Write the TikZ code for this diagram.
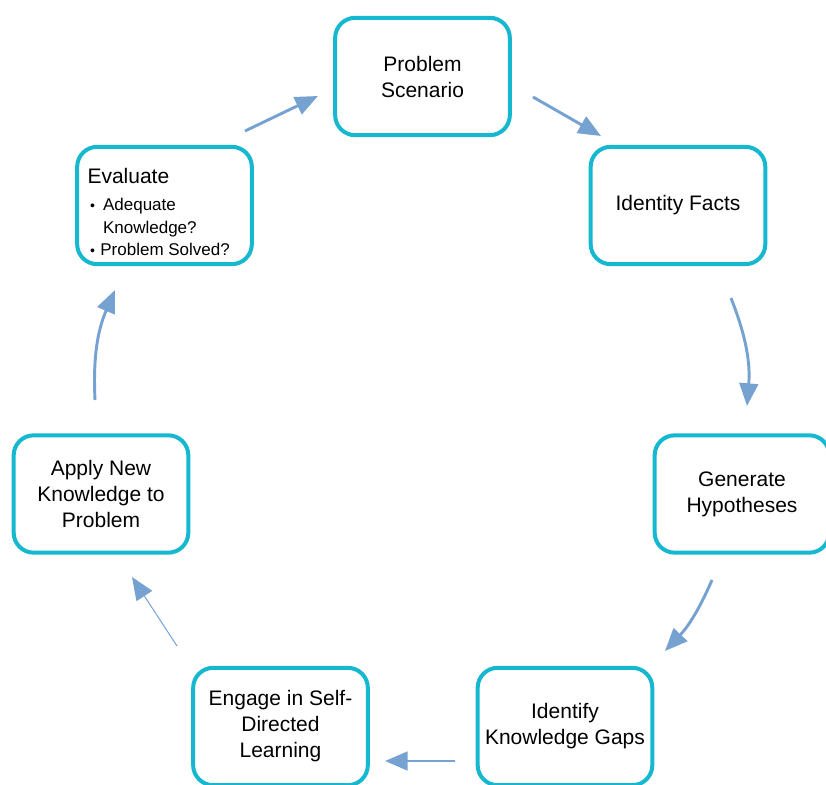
\documentclass[tikz,border=0pt]{standalone}
\usepackage{fontspec}
\setmainfont{Liberation Sans}
\usetikzlibrary{arrows.meta}
\definecolor{stagecyan}{RGB}{22,184,208}
\definecolor{flowblue}{RGB}{118,162,210}
\tikzset{every picture/.style={line width=0.75pt}}
\tikzset{
  stage/.style={draw=stagecyan, line width=3pt, rounded corners=15pt,
    minimum width=131pt, minimum height=88pt, inner sep=0pt, align=center,
    font=\fontsize{15.75}{19.5}\selectfont},
  flow/.style={draw=flowblue, line width=2.2pt,
    -{Triangle[length=17pt,width=14pt,fill=flowblue]}},
  thinflow/.style={flow, line width=0.75pt},
}

\begin{document}
\begin{tikzpicture}[x=0.75pt,y=-0.75pt]
%set diagram left start at 0, and has height of 785
\path[use as bounding box, clip] (0,0) rectangle (826,785);

% Text Node
\node[stage] (scenario) at (422.5,76.5) {Problem\\Scenario};
% Text Node
\node[stage] (facts) at (678,205.5) {Identity Facts};
% Text Node
\node[stage] (hypo) at (742,494) {Generate\\Hypotheses};
% Text Node
\node[stage] (gaps) at (565,726.5) {Identify\\Knowledge Gaps};
% Text Node
\node[stage] (engage) at (280.5,726.5) {Engage in Self-\\Directed\\Learning};
% Text Node
\node[stage] (apply) at (101,494) {Apply New\\Knowledge to\\Problem};
% Text Node
\node[stage] (evaluate) at (164.5,205.5) {};
\node[anchor=north west, inner sep=0pt] (evaltext) at ([shift={(-77.5,-38)}]evaluate.center)
  {\fontsize{12.75}{17}\selectfont
   \begin{tabular}{@{}l@{\hspace{6pt}}l@{}}
   \multicolumn{2}{@{}l@{}}{\fontsize{15.75}{19.5}\selectfont Evaluate}\\[3pt]
   \hspace{2pt}{\fontsize{10.5}{12}\selectfont\textbullet} & Adequate\\
               & Knowledge?\\
   \hspace{2pt}{\fontsize{10.5}{12}\selectfont\textbullet} & \hspace{-2pt}Problem Solved?
   \end{tabular}};

%Straight Lines
\draw[flow] ([shift={(80.5,-74.5)}]evaluate.center) -- ([shift={(-104.5,19.5)}]scenario.center);
%Straight Lines
\draw[flow] ([shift={(110.5,20.5)}]scenario.center) -- ([shift={(-77,-69.5)}]facts.center);
%Curve Lines
\draw[flow] ([shift={(53,92.5)}]facts.center) to[bend left=13] ([shift={(5,-88)}]hypo.center);
%Curve Lines
\draw[flow] ([shift={(-30,86)}]hypo.center) to[bend left=10] ([shift={(100,-75.5)}]gaps.center);
%Straight Lines
\draw[flow] ([shift={(-110,34.5)}]gaps.center) -- ([shift={(104.5,34.5)}]engage.center);
%Straight Lines
\draw[thinflow] ([shift={(-103.5,-80.5)}]engage.center) -- ([shift={(31,83)}]apply.center);
%Curve Lines
\draw[flow] ([shift={(-6,-94)}]apply.center) to[bend left=13] ([shift={(-49.5,84.5)}]evaluate.center);

\end{tikzpicture}
\end{document}
